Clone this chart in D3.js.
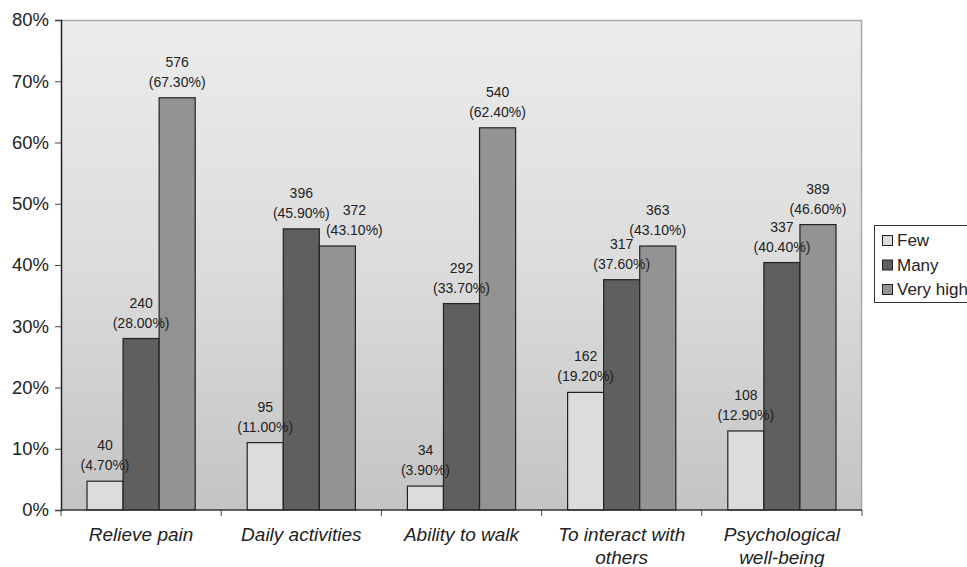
<!DOCTYPE html>
<html><head><meta charset="utf-8">
<script src="https://cdn.jsdelivr.net/npm/d3@7"></script>
<style>body{margin:0;background:#fff}svg{display:block;font-family:"Liberation Sans",Arial,sans-serif}</style>
</head><body><svg id="c" width="967" height="567"></svg>
<script>
const categories = [["Relieve pain"],["Daily activities"],["Ability to walk"],["To interact with","others"],["Psychological","well-being"]];
const seriesNames = ["Few","Many","Very high"];
const counts = {"Few":[40,95,34,162,108],"Many":[240,396,292,317,337],"Very high":[576,372,540,363,389]};
const percents = {"Few":[4.7,11.0,3.9,19.2,12.9],"Many":[28.0,45.9,33.7,37.6,40.4],"Very high":[67.3,43.1,62.4,43.1,46.6]};
const yTicks = [0,10,20,30,40,50,60,70,80];
const colors = {"Few":"#dcdcdc","Many":"#5f5f5f","Very high":"#939393"};

const svg = d3.select("#c");
const L=61,R=862,T=20,B=510;
const x0 = d3.scaleBand().domain(d3.range(categories.length)).range([L,R]).paddingInner(0).paddingOuter(0);
const x1 = d3.scaleBand().domain(seriesNames).range([26, x0.bandwidth()-26]);
const y = d3.scaleLinear().domain([0,80]).range([B,T]);

const defs = svg.append("defs");
const g = defs.append("linearGradient").attr("id","bg").attr("x1",0).attr("y1",0).attr("x2",0).attr("y2",1);
g.append("stop").attr("offset","0%").attr("stop-color","#ececec");
g.append("stop").attr("offset","50%").attr("stop-color","#dcdcdc");
g.append("stop").attr("offset","100%").attr("stop-color","#c4c4c4");
svg.append("rect").attr("x",L).attr("y",T).attr("width",R-L).attr("height",B-T).attr("fill","url(#bg)");
svg.append("path").attr("d",`M${L},${T+0.5}H${R-0.5}V${B}`).attr("fill","none").attr("stroke","#a8a8a8").attr("stroke-width",1.5);

// bars
const groups = svg.selectAll("g.grp").data(categories).join("g").attr("transform",(d,i)=>`translate(${x0(i)},0)`);
seriesNames.forEach(s=>{
  groups.append("rect").attr("x",x1(s)).attr("y",(d,i)=>y(percents[s][i])).attr("width",x1.bandwidth())
    .attr("height",(d,i)=>B-y(percents[s][i])).attr("fill",colors[s]).attr("stroke","#222").attr("stroke-width",1.2);
});
// label nudge: if a bar is slightly lower than its left neighbour, its labels would collide, so shift right
function nudge(s,i){
  const k = seriesNames.indexOf(s);
  if(k===0) return 0;
  const dy = y(percents[s][i]) - y(percents[seriesNames[k-1]][i]);
  return (dy>0 && dy<37) ? 17 : 0;
}
seriesNames.forEach(s=>{
  groups.append("text").attr("x",(d,i)=>x1(s)+x1.bandwidth()/2+nudge(s,i)).attr("y",(d,i)=>y(percents[s][i])-31).attr("text-anchor","middle")
    .attr("font-size",14).attr("fill","#222").text((d,i)=>counts[s][i]);
  groups.append("text").attr("x",(d,i)=>x1(s)+x1.bandwidth()/2+nudge(s,i)).attr("y",(d,i)=>y(percents[s][i])-11).attr("text-anchor","middle")
    .attr("font-size",14).attr("fill","#222").text((d,i)=>"("+percents[s][i].toFixed(2)+"%)");
});

// y axis
const ya = svg.append("g").attr("transform",`translate(${L},0)`).call(d3.axisLeft(y).tickValues(yTicks).tickFormat(d=>d+"%").tickSize(6).tickPadding(6));
ya.select(".domain").attr("stroke","#222").attr("stroke-width",1.5);
ya.selectAll(".tick line").attr("stroke","#444");
ya.selectAll("text").attr("font-size",18.5).attr("fill","#222").attr("font-family","Liberation Sans, Arial, sans-serif");

// x axis
const xa = svg.append("g").attr("transform",`translate(0,${B})`);
xa.append("line").attr("x1",L).attr("x2",R).attr("y1",0).attr("y2",0).attr("stroke","#333").attr("stroke-width",1.5);
const bounds = d3.range(categories.length+1).map(i=> i<categories.length? x0(i): R);
xa.selectAll("line.t").data(bounds).join("line").attr("x1",d=>d).attr("x2",d=>d).attr("y1",0).attr("y2",6).attr("stroke","#444");
const lab = svg.selectAll("text.cat").data(categories).join("text").attr("class","cat")
  .attr("text-anchor","middle").attr("font-size",19).attr("font-style","italic").attr("fill","#222");
lab.each(function(d,i){
  const t=d3.select(this);
  d.forEach((line,j)=>t.append("tspan").attr("x",x0(i)+x0.bandwidth()/2).attr("y",541+j*23).text(line));
});

// legend
const lg = svg.append("g");
lg.append("rect").attr("x",874.5).attr("y",225.5).attr("width",100).attr("height",77).attr("fill","#fff").attr("stroke","#333");
seriesNames.forEach((s,i)=>{
  const yy = 240+i*24.5;
  lg.append("rect").attr("x",882.5).attr("y",yy-4.5).attr("width",10).attr("height",10).attr("fill",colors[s]).attr("stroke","#222");
  lg.append("text").attr("x",897).attr("y",yy+6).attr("font-size",17).attr("fill","#222").text(s);
});
</script></body></html>
